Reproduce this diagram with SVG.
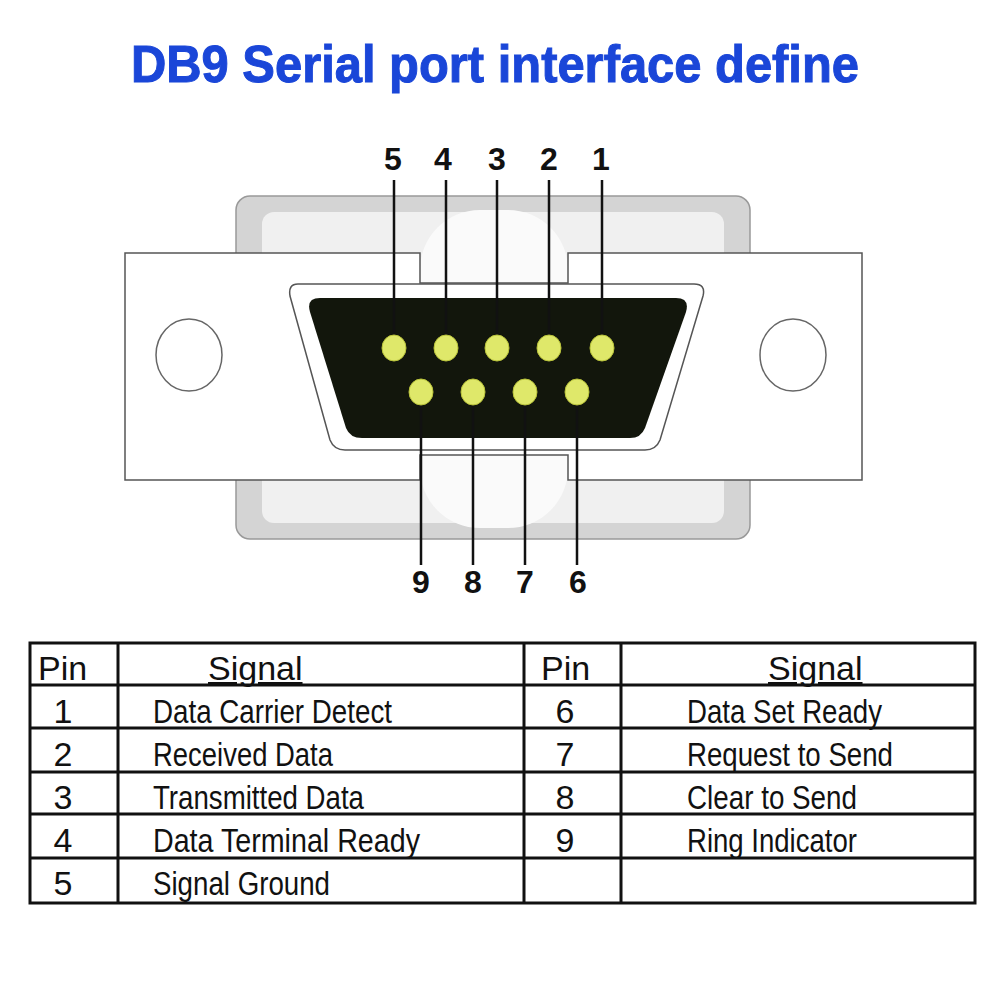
<svg xmlns="http://www.w3.org/2000/svg" width="1001" height="1001" viewBox="0 0 1001 1001">
<style>
.t{font-family:"Liberation Sans Narrow","Liberation Sans",Arial,sans-serif;font-size:34px;fill:#111}
.n{font-family:"Liberation Sans Narrow","Liberation Sans",Arial,sans-serif;font-size:32px;font-weight:bold;fill:#111;text-anchor:middle}
.ln{stroke:#111;stroke-width:2.5;fill:none}
.tl{stroke:#111;stroke-width:3;fill:none}
.pin{fill:#dfe86a;stroke:#b9c33a;stroke-width:1}
</style>
<rect width="1001" height="1001" fill="#fff"/>
<text x="495" y="82" text-anchor="middle" font-family="Liberation Sans,Arial,sans-serif" font-weight="bold" font-size="52" fill="#1a46d8" stroke="#1a46d8" stroke-width="1" textLength="728" lengthAdjust="spacingAndGlyphs">DB9 Serial port interface define</text>
<g id="connector">
<rect x="236" y="196" width="514" height="343" rx="14" fill="#d4d4d4" stroke="#999" stroke-width="1.5"/>
<rect x="262" y="212" width="462" height="311" rx="12" fill="#f0f0f0"/>
<rect x="420" y="210" width="148" height="318" rx="60" fill="#fafafa"/>
<path d="M125 253 H420 V283 H568 V253 H862 V480 H568 V455 H420 V480 H125 Z" fill="#fff" stroke="#555" stroke-width="1.5"/>
<path d="M298 284 H694 Q706 284 703 296 L660 440 Q656 450 645 450 H345 Q334 450 330 440 L290 296 Q288 284 298 284 Z" fill="#fff" stroke="#555" stroke-width="1.5"/>
<path d="M320 298 H676 Q690 298 686 312 L645 428 Q641 438 630 438 H362 Q350 438 346 428 L310 312 Q306 298 320 298 Z" fill="#12160c"/>
<ellipse cx="189" cy="355" rx="33" ry="36" fill="#fff" stroke="#666" stroke-width="1.5"/>
<ellipse cx="793" cy="355" rx="33" ry="36" fill="#fff" stroke="#666" stroke-width="1.5"/>
</g>
<g id="connectors">
<path class="ln" d="M394 180 V336 M446 180 V336 M497 180 V336 M549 180 V336 M602 180 V336"/>
<path class="ln" d="M421 404 V565 M473 404 V565 M525 404 V565 M577 404 V565"/>
</g>
<g id="pins">
<ellipse class="pin" cx="394" cy="348" rx="12" ry="13"/>
<ellipse class="pin" cx="446" cy="348" rx="12" ry="13"/>
<ellipse class="pin" cx="497" cy="348" rx="12" ry="13"/>
<ellipse class="pin" cx="549" cy="348" rx="12" ry="13"/>
<ellipse class="pin" cx="602" cy="348" rx="12" ry="13"/>
<ellipse class="pin" cx="421" cy="392" rx="12" ry="13"/>
<ellipse class="pin" cx="473" cy="392" rx="12" ry="13"/>
<ellipse class="pin" cx="525" cy="392" rx="12" ry="13"/>
<ellipse class="pin" cx="577" cy="392" rx="12" ry="13"/>
</g>
<g id="labels">
<text class="n" x="393" y="170">5</text>
<text class="n" x="443" y="170">4</text>
<text class="n" x="497" y="170">3</text>
<text class="n" x="549" y="170">2</text>
<text class="n" x="601" y="170">1</text>
<text class="n" x="421" y="593">9</text>
<text class="n" x="473" y="593">8</text>
<text class="n" x="525" y="593">7</text>
<text class="n" x="578" y="593">6</text>
</g>
<g id="table">
<rect class="tl" x="30" y="643" width="945" height="260"/>
<path class="tl" d="M30 685 H975 M30 728 H975 M30 772 H975 M30 814 H975 M30 858 H975 M118 643 V903 M524 643 V903 M621 643 V903"/>
<text class="t" x="38" y="680">Pin</text>
<text class="t" x="208" y="680" text-decoration="underline">Signal</text>
<text class="t" x="541" y="680">Pin</text>
<text class="t" x="768" y="680" text-decoration="underline">Signal</text>
<g text-anchor="middle">
<text class="t" x="63" y="723">1</text><text class="t" x="63" y="766">2</text><text class="t" x="63" y="809">3</text><text class="t" x="63" y="852">4</text><text class="t" x="63" y="895">5</text>
<text class="t" x="565" y="723">6</text><text class="t" x="565" y="766">7</text><text class="t" x="565" y="809">8</text><text class="t" x="565" y="852">9</text>
</g>
<text class="t" x="153" y="723" textLength="239" lengthAdjust="spacingAndGlyphs">Data Carrier Detect</text>
<text class="t" x="153" y="766" textLength="180" lengthAdjust="spacingAndGlyphs">Received Data</text>
<text class="t" x="153" y="809" textLength="211" lengthAdjust="spacingAndGlyphs">Transmitted Data</text>
<text class="t" x="153" y="852" textLength="267" lengthAdjust="spacingAndGlyphs">Data  Terminal Ready</text>
<text class="t" x="153" y="895" textLength="177" lengthAdjust="spacingAndGlyphs">Signal Ground</text>
<text class="t" x="687" y="723" textLength="195" lengthAdjust="spacingAndGlyphs">Data Set Ready</text>
<text class="t" x="687" y="766" textLength="206" lengthAdjust="spacingAndGlyphs">Request to Send</text>
<text class="t" x="687" y="809" textLength="170" lengthAdjust="spacingAndGlyphs">Clear to Send</text>
<text class="t" x="687" y="852" textLength="170" lengthAdjust="spacingAndGlyphs">Ring Indicator</text>
</g>
</svg>
